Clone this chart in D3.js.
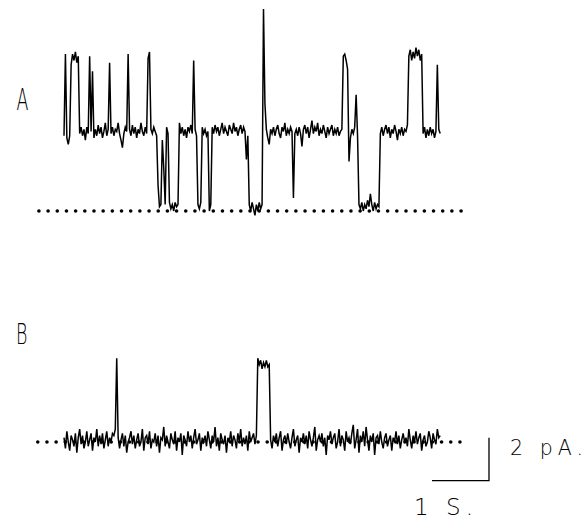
<!DOCTYPE html>
<html>
<head>
<meta charset="utf-8">
<script src="https://cdn.jsdelivr.net/npm/d3@7/dist/d3.min.js"></script>
<style>
  html, body { margin: 0; padding: 0; background: #fff; }
  svg { display: block; }
  .lbl { font-family: "DejaVu Sans", sans-serif; font-weight: 200; fill: #000; }
</style>
</head>
<body>
<svg id="chart" width="584" height="520"></svg>
<script>
// Single-channel current records, sampled every 0.025 s (values in pA).
const sampleStep = 0.025;

// Record A: channel activity with openings to one and two levels.
const traceA = [
  3.5, 7.3, 3.4, 3.1, 3.5, 6.8, 7.3, 7.0, 7.4, 6.9,
  7.2, 3.6, 3.9, 3.5, 3.8, 3.3, 3.9, 3.6, 7.2, 3.7,
  6.5, 3.4, 3.8, 3.5, 4.0, 3.6, 3.9, 3.4, 3.7, 4.1,
  3.5, 3.8, 6.9, 3.6, 3.9, 3.5, 3.8, 3.7, 4.1, 3.6,
  3.3, 2.95, 3.6, 3.9, 3.7, 7.3, 3.8, 3.5, 4.0, 3.6,
  3.9, 3.4, 3.8, 3.6, 4.1, 3.7, 3.5, 3.9, 3.6, 7.1,
  7.4, 3.8, 3.6, 3.9, 3.7, 3.5, 1.2, 0.2, 0.3, 3.3,
  2.0, 0.3, 3.9, 3.6, 0.4, 0.1, 0.3, 0.0, 0.4, 0.2,
  0.3, 4.1, 3.6, 3.9, 3.5, 3.8, 3.4, 3.9, 3.7, 4.0,
  3.6, 7.0, 3.8, 3.5, 0.3, 0.1, 0.4, 3.9, 3.6, 3.8,
  3.5, 3.7, 0.0, 0.3, 3.9, 3.6, 4.0, 3.7, 3.9, 3.5,
  3.8, 4.1, 3.6, 3.9, 3.7, 3.5, 4.0, 3.8, 3.6, 4.1,
  3.7, 3.9, 3.5, 3.8, 4.0, 3.6, 3.9, 3.7, 2.4, 3.5,
  0.3, 0.0, 0.4, 0.1, -0.2, 0.3, 0.0, 0.4, 0.1, 0.3,
  9.4, 5.0, 3.8, 3.4, 3.1, 3.8, 3.6, 3.9, 3.5, 3.8,
  4.0, 3.6, 3.4, 3.9, 3.7, 4.1, 3.5, 3.8, 3.6, 3.9,
  3.7, 0.6, 3.6, 3.8, 3.5, 3.9, 3.6, 3.0, 3.8, 4.0,
  3.6, 3.9, 3.4, 3.8, 4.2, 3.6, 3.9, 3.7, 4.1, 3.5,
  3.8, 3.6, 4.0, 3.7, 3.4, 3.9, 3.6, 3.8, 4.0, 3.5,
  3.8, 3.6, 3.9, 3.5, 3.7, 3.8, 7.2, 7.3, 7.0, 6.6,
  2.3, 3.4, 3.8, 3.6, 3.9, 5.4, 3.5, 0.3, 0.1, 0.4,
  0.0, 0.3, 0.1, 0.5, 0.2, 0.8, 0.3, 0.0, 0.4, 0.1,
  0.3, 0.2, 3.6, 3.9, 3.5, 3.8, 4.0, 3.6, 3.9, 3.4,
  3.8, 3.6, 4.0, 3.7, 3.3, 3.8, 3.6, 3.9, 3.5, 3.8,
  3.7, 4.0, 7.2, 7.5, 7.0, 7.4, 7.1, 7.6, 7.2, 7.5,
  7.0, 7.3, 3.6, 3.9, 3.4, 3.8, 3.5, 3.9, 3.6, 3.8,
  3.4, 3.7, 6.8, 3.8, 3.6
];

// Record B: mostly closed, one brief opening and one short burst.
const traceB = [
  0.2, -0.3, 0.5, 0.0, -0.4, 0.3, 0.1, -0.2, 0.4, -0.5,
  0.2, 0.6, -0.1, 0.3, -0.3, 0.0, 0.5, -0.2, 0.1, 0.4,
  -0.4, 0.2, 0.0, 0.6, -0.2, 0.3, -0.1, 0.4, -0.3, 0.1,
  0.5, -0.2, 0.2, 0.0, 0.4, 0.3, 0.6, 3.9, 0.2, -0.3,
  0.1, 0.4, -0.2, 0.3, -0.5, 0.0, 0.2, 0.5, -0.1, 0.3,
  -0.3, 0.1, 0.4, -0.2, 0.0, 0.6, -0.4, 0.2, 0.3, -0.1,
  0.5, -0.3, 0.1, 0.0, 0.4, -0.2, 0.3, -0.5, 0.2, 0.1,
  0.7, -0.2, 0.3, 0.0, -0.3, 0.4, 0.1, -0.1, 0.5, -0.4,
  0.2, 0.0, 0.4, -0.6, 0.3, 0.1, -0.2, 0.5, 0.0, 0.3,
  -0.3, 0.2, 0.6, -0.1, 0.1, 0.4, -0.4, 0.2, 0.0, 0.3,
  -0.2, 0.5, 0.1, -0.3, 0.3, 0.0, 0.7, -0.2, 0.2, -0.4,
  0.4, 0.1, -0.1, 0.3, -0.5, 0.2, 0.0, 0.5, -0.2, 0.3,
  0.1, -0.3, 0.4, 0.0, 0.6, -0.2, 0.2, -0.1, 0.3, -0.4,
  0.5, 0.0, 0.2, 0.4, -0.1, 0.3, 3.9, 3.6, 3.8, 3.4,
  3.7, 3.5, 3.8, 3.5, 3.6, 0.1, -0.3, 0.3, 0.0, 0.4,
  -0.2, 0.2, 0.5, -0.4, 0.1, 0.3, -0.1, 0.4, 0.0, -0.3,
  0.2, 0.6, -0.2, 0.1, 0.3, -0.5, 0.2, 0.0, 0.4, -0.1,
  0.3, -0.3, 0.5, 0.1, -0.2, 0.2, 0.7, -0.4, 0.1, 0.3,
  0.0, 0.4, -0.2, 0.2, -0.6, 0.3, 0.1, 0.5, -0.1, 0.2,
  0.4, -0.3, 0.0, 0.6, -0.2, 0.3, 0.1, -0.4, 0.5, 0.0,
  0.2, -0.1, 0.4, 0.8, -0.3, 0.1, 0.6, -0.5, 0.3, 0.0,
  0.5, -0.2, 0.7, 0.1, -0.4, 0.3, 0.0, 0.4, -0.6, 0.2,
  0.3, -0.1, 0.5, 0.0, -0.3, 0.2, 0.4, -0.2, 0.1, 0.3,
  -0.4, 0.2, 0.0, 0.5, -0.1, 0.3, -0.3, 0.1, 0.4, 0.0,
  0.2, -0.2, 0.6, 0.1, -0.3, 0.3, 0.0, 0.5, -0.1, 0.2,
  0.4, -0.4, 0.1, 0.3, -0.2, 0.0, 0.5, 0.2, -0.3, 0.4,
  0.1, -0.1, 0.6, 0.2, 0.3
];

const panelLabels = ["A", "B"];
// Time span (s) covered by the dotted zero-current line of each record.
const zeroLineA = [-0.44, 7.12];
const zeroLineB = [-0.46, 6.96];
const zeroDotStep = 0.161;
// Calibration bars: 1 s and 2 pA.
const barTime = 1;
const barCurrent = 2;
const barLabels = ["2 pA.", "1 S."];

const svg = d3.select("#chart");

const x = d3.scaleLinear().domain([0, 6.6]).range([64, 440.2]);
// current (pA) to vertical offset from each record's zero line
const y = d3.scaleLinear().domain([0, 10]).range([0, -215]);

const line = d3.line()
  .x((d, i) => x(i * sampleStep))
  .y(d => y(d));

function drawRecord(values, zeroSpan, offsetY) {
  const g = svg.append("g").attr("transform", `translate(0,${offsetY})`);
  const dots = d3.range(zeroSpan[0], zeroSpan[1] + 1e-6, zeroDotStep);
  g.append("g").selectAll("circle")
    .data(dots)
    .join("circle")
    .attr("cx", d => x(d))
    .attr("cy", y(0))
    .attr("r", 1.8)
    .attr("fill", "#000");
  g.append("path")
    .datum(values)
    .attr("d", line)
    .attr("fill", "none")
    .attr("stroke", "#000")
    .attr("stroke-width", 1.5)
    .attr("stroke-linejoin", "miter");
  return g;
}

drawRecord(traceA, zeroLineA, 211);
const gB = drawRecord(traceB, zeroLineB, 442);

// calibration bars, hung below record B
const barStart = 6.456;
const barBase = -1.8;
const bar = d3.path();
bar.moveTo(x(barStart), y(barBase));
bar.lineTo(x(barStart + barTime), y(barBase));
bar.lineTo(x(barStart + barTime), y(barBase + barCurrent));
gB.append("path")
  .attr("d", bar.toString())
  .attr("fill", "none")
  .attr("stroke", "#000")
  .attr("stroke-width", 1.3);

// panel letters
svg.append("text").attr("class", "lbl")
  .attr("transform", "translate(16.5,110) scale(0.58,1)")
  .attr("font-size", 30)
  .text(panelLabels[0]);
svg.append("text").attr("class", "lbl")
  .attr("transform", "translate(16,344) scale(0.6,1)")
  .attr("font-size", 29)
  .text(panelLabels[1]);

// calibration labels
svg.append("text").attr("class", "lbl")
  .attr("x", 510).attr("y", 455)
  .attr("font-size", 20.5)
  .attr("textLength", 73).attr("lengthAdjust", "spacing")
  .text(barLabels[0]);
svg.append("text").attr("class", "lbl")
  .attr("x", 414).attr("y", 515)
  .attr("font-size", 23)
  .attr("textLength", 59).attr("lengthAdjust", "spacing")
  .text(barLabels[1]);
</script>
</body>
</html>
